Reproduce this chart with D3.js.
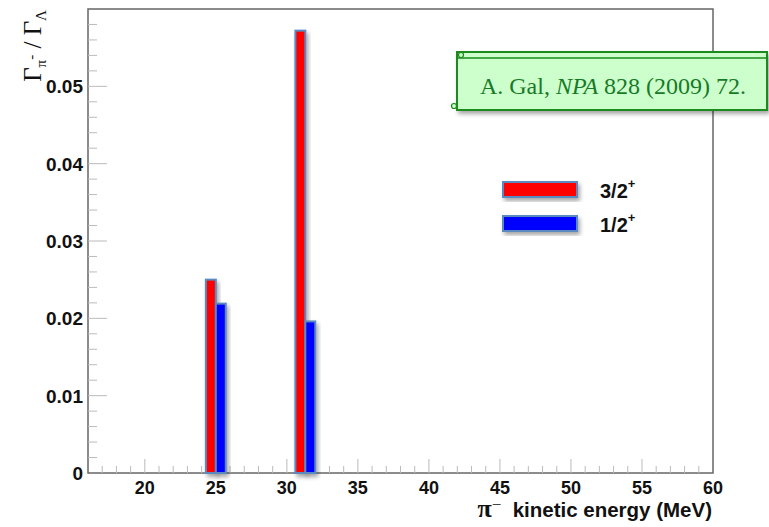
<!DOCTYPE html>
<html>
<head>
<meta charset="utf-8">
<script src="https://cdn.jsdelivr.net/npm/d3@7"></script>
<style>
  body { margin: 0; background: #fff; }
  svg { display: block; }
</style>
</head>
<body>
<div id="chart"></div>
<script>
// energies of the pi- (MeV) and ratios for each spin state
var energies = [25.0, 31.3];
var spin32 = [0.0250, 0.0572];
var spin12 = [0.0219, 0.0196];
var seriesNames = ["3/2", "1/2"];
var xTicks = [20, 25, 30, 35, 40, 45, 50, 55, 60];
var yTicks = [0, 0.01, 0.02, 0.03, 0.04, 0.05];

(function() {
  var width = 769, height = 527;
  var mLeft = 88, mRight = 713, mTop = 9, mBottom = 473;
  var barW = 0.7;

  var svg = d3.select("#chart").append("svg")
    .attr("width", width)
    .attr("height", height);

  var defs = svg.append("defs");
  var f = defs.append("filter").attr("id", "shadow")
    .attr("x", "-50%").attr("y", "-20%").attr("width", "200%").attr("height", "150%");
  f.append("feDropShadow").attr("dx", 2).attr("dy", 3).attr("stdDeviation", 2)
    .attr("flood-color", "#000").attr("flood-opacity", 0.35);

  var x = d3.scaleLinear().domain([16, 60]).range([mLeft, mRight]);
  var y = d3.scaleLinear().domain([0, 0.06]).range([mBottom, mTop]);

  // frame
  svg.append("rect")
    .attr("x", mLeft).attr("y", mTop)
    .attr("width", mRight - mLeft).attr("height", mBottom - mTop)
    .attr("fill", "none").attr("stroke", "#666").attr("stroke-width", 1.5);

  // x axis
  var xAxis = svg.append("g").attr("transform", "translate(0," + mBottom + ")");
  xAxis.selectAll(".minor")
    .data(d3.range(17, 60, 1))
    .enter().append("line")
    .attr("x1", function(d) { return x(d); }).attr("x2", function(d) { return x(d); })
    .attr("y1", 0).attr("y2", function(d) { return d % 5 === 0 ? -14 : -7; })
    .attr("stroke", "#bbb").attr("stroke-width", 1);
  xAxis.selectAll(".lab")
    .data(xTicks)
    .enter().append("text")
    .attr("x", function(d) { return x(d); })
    .attr("y", 21)
    .attr("text-anchor", "middle")
    .attr("font-family", "Liberation Sans, Arial, sans-serif")
    .attr("font-weight", "bold").attr("font-size", 18)
    .attr("fill", "#111")
    .text(function(d) { return d; });

  // y axis
  var yAxis = svg.append("g").attr("transform", "translate(" + mLeft + ",0)");
  yAxis.selectAll(".minor")
    .data(d3.range(1, 30, 1))
    .enter().append("line")
    .attr("y1", function(d) { return y(d * 0.002); }).attr("y2", function(d) { return y(d * 0.002); })
    .attr("x1", 0).attr("x2", function(d) { return d % 5 === 0 ? 19 : 9; })
    .attr("stroke", "#bbb").attr("stroke-width", 1);
  yAxis.selectAll(".lab")
    .data(yTicks)
    .enter().append("text")
    .attr("x", -5)
    .attr("y", function(d) { return y(d) + 7; })
    .attr("text-anchor", "end")
    .attr("font-family", "Liberation Sans, Arial, sans-serif")
    .attr("font-weight", "bold").attr("font-size", 19)
    .attr("fill", "#111")
    .text(function(d) { return d === 0 ? "0" : d.toFixed(2); });

  // bars
  var bars = svg.append("g");
  function drawBars(vals, offset, color) {
    bars.selectAll(null)
      .data(vals)
      .enter().append("rect")
      .attr("x", function(d, i) { return x(energies[i] + offset); })
      .attr("y", function(d) { return y(d); })
      .attr("width", x(barW) - x(0))
      .attr("height", function(d) { return mBottom - y(d); })
      .attr("fill", color)
      .attr("stroke", "#5a8ac0").attr("stroke-width", 2)
      .attr("filter", "url(#shadow)");
  }
  drawBars(spin32, -barW, "#ff0000");
  drawBars(spin12, 0, "#0000ff");

  // legend
  var legend = svg.append("g");
  var legColors = ["#ff0000", "#0000ff"];
  seriesNames.forEach(function(name, i) {
    var g = legend.append("g").attr("transform", "translate(503," + (182 + i * 34) + ")");
    g.append("rect").attr("width", 74).attr("height", 15)
      .attr("fill", legColors[i]).attr("stroke", "#5a8ac0").attr("stroke-width", 2)
      .attr("filter", "url(#shadow)");
    var t = g.append("text").attr("x", 97).attr("y", 16)
      .attr("font-family", "Liberation Sans, Arial, sans-serif")
      .attr("font-weight", "bold").attr("font-size", 20).attr("fill", "#111");
    t.append("tspan").text(name);
    t.append("tspan").attr("dy", -10).attr("font-size", 13).text("+");
  });

  // citation box
  var note = svg.append("g");
  note.append("rect")
    .attr("x", 457).attr("y", 52).attr("width", 310).attr("height", 58)
    .attr("fill", "#ccffcc").attr("stroke", "#1a8a1a").attr("stroke-width", 2)
    .attr("filter", "url(#shadow)");
  note.append("line").attr("x1", 457).attr("x2", 767).attr("y1", 58).attr("y2", 58)
    .attr("stroke", "#1a8a1a").attr("stroke-width", 1.5);
  note.append("circle").attr("cx", 461).attr("cy", 55).attr("r", 2.5)
    .attr("fill", "#ccffcc").attr("stroke", "#1a8a1a").attr("stroke-width", 1.2);
  note.append("circle").attr("cx", 454).attr("cy", 106).attr("r", 2.5)
    .attr("fill", "#ccffcc").attr("stroke", "#1a8a1a").attr("stroke-width", 1.2);
  var nt = note.append("text").attr("x", 613).attr("y", 94)
    .attr("text-anchor", "middle")
    .attr("font-family", "Liberation Serif, Times New Roman, serif")
    .attr("font-size", 24).attr("fill", "#187a28");
  nt.append("tspan").text("A. Gal, ");
  nt.append("tspan").attr("font-style", "italic").text("NPA");
  nt.append("tspan").text(" 828 (2009) 72.");

  // x title
  var xt = svg.append("text").attr("x", 712).attr("y", 517)
    .attr("text-anchor", "end").attr("fill", "#111");
  xt.append("tspan").attr("font-family", "Liberation Serif, serif").attr("font-weight", "bold")
    .attr("font-size", 26).text("\u03c0");
  xt.append("tspan").attr("font-family", "Liberation Serif, serif").attr("font-size", 17)
    .attr("dy", -7).text("\u2212");
  xt.append("tspan").attr("dy", 7).attr("font-family", "Liberation Sans, Arial, sans-serif")
    .attr("font-weight", "bold").attr("font-size", 20.5)
    .attr("xml:space", "preserve").text("  kinetic energy (MeV)");

  // y title
  var yt = svg.append("text")
    .attr("transform", "translate(41,10) rotate(-90)")
    .attr("text-anchor", "end")
    .attr("font-family", "Liberation Serif, Times New Roman, serif")
    .attr("font-size", 25).attr("fill", "#111");
  yt.append("tspan").text("\u0393");
  yt.append("tspan").attr("font-size", 15).attr("dy", 5).text("\u03c0");
  yt.append("tspan").attr("font-size", 15).attr("dy", -10).text("-");
  yt.append("tspan").attr("dy", 5).attr("xml:space", "preserve").text(" / \u0393");
  yt.append("tspan").attr("font-size", 15).attr("dy", 5).text("\u039b");
})();
</script>
</body>
</html>
